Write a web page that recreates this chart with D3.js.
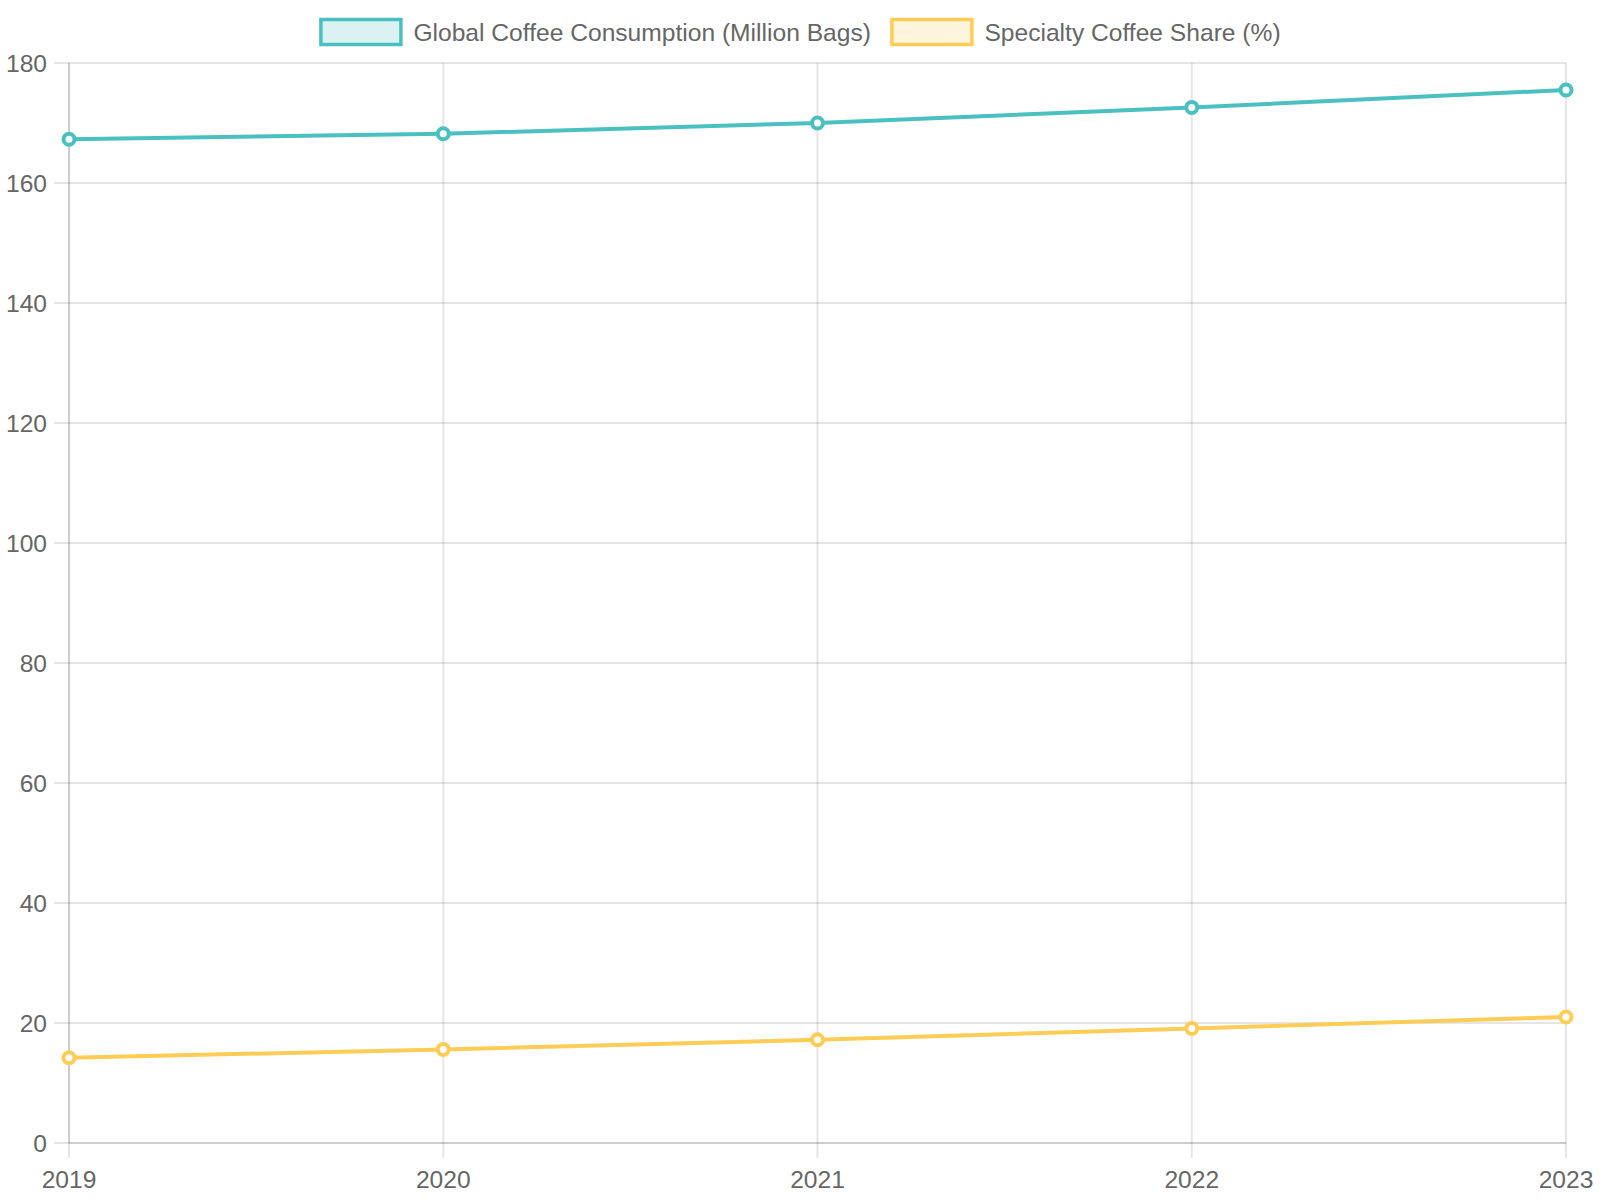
<!DOCTYPE html>
<html>
<head>
<meta charset="UTF-8">
<title>Coffee</title>
<script src="https://cdnjs.cloudflare.com/ajax/libs/d3/7.8.5/d3.min.js"></script>
<style>
  body { margin: 0; background: #fff; }
  svg { display: block; font-family: "Liberation Sans", Arial, Helvetica, sans-serif; }
</style>
</head>
<body>
<script>
// data
var years = ["2019", "2020", "2021", "2022", "2023"];
var consumption = [167.3, 168.2, 170.0, 172.6, 175.5];
var specialtyShare = [14.2, 15.6, 17.2, 19.1, 21.0];
var yTicks = [0, 20, 40, 60, 80, 100, 120, 140, 160, 180];
var seriesNames = ["Global Coffee Consumption (Million Bags)", "Specialty Coffee Share (%)"];
var seriesColors = ["rgb(75,192,192)", "rgb(255,205,86)"];
var seriesFills = ["rgba(75,192,192,0.2)", "rgba(255,205,86,0.2)"];

var W = 1600, H = 1200;
// plot area ("top" is a reserved global in browsers, so use other names)
var plotLeft = 69, plotRight = 1566, plotTop = 63, plotBottom = 1143;
var grid = "rgba(0,0,0,0.1)";
var fontSize = 24.6;

var svg = d3.select("body").append("svg")
  .attr("width", W)
  .attr("height", H);

var x = d3.scalePoint().domain(years).range([plotLeft, plotRight]);
var y = d3.scaleLinear().domain([0, 180]).range([plotBottom, plotTop]);

// grid lines
svg.append("g").selectAll("line")
  .data(yTicks).enter().append("line")
  .attr("x1", plotLeft - 15).attr("x2", plotRight)
  .attr("y1", function (d) { return y(d); })
  .attr("y2", function (d) { return y(d); })
  .attr("stroke", grid).attr("stroke-width", 2);

svg.append("g").selectAll("line")
  .data(years).enter().append("line")
  .attr("x1", function (d) { return x(d); })
  .attr("x2", function (d) { return x(d); })
  .attr("y1", plotTop).attr("y2", plotBottom + 15)
  .attr("stroke", grid).attr("stroke-width", 2);

// axis borders
svg.append("line")
  .attr("x1", plotLeft).attr("x2", plotLeft).attr("y1", plotTop).attr("y2", plotBottom)
  .attr("stroke", grid).attr("stroke-width", 2);
svg.append("line")
  .attr("x1", plotLeft).attr("x2", plotRight).attr("y1", plotBottom).attr("y2", plotBottom)
  .attr("stroke", grid).attr("stroke-width", 2);

// tick labels
svg.append("g").selectAll("text")
  .data(yTicks).enter().append("text")
  .attr("x", 47)
  .attr("y", function (d) { return y(d); })
  .attr("dy", "0.36em")
  .attr("text-anchor", "end")
  .attr("font-size", fontSize)
  .attr("fill", "#666")
  .text(function (d) { return d; });

svg.append("g").selectAll("text")
  .data(years).enter().append("text")
  .attr("x", function (d) { return x(d); })
  .attr("y", 1188)
  .attr("text-anchor", "middle")
  .attr("font-size", fontSize)
  .attr("fill", "#666")
  .text(function (d) { return d; });

// lines + points
var line = d3.line()
  .x(function (d, i) { return x(years[i]); })
  .y(function (d) { return y(d); });

[consumption, specialtyShare].forEach(function (vals, k) {
  svg.append("path")
    .datum(vals)
    .attr("d", line)
    .attr("fill", "none")
    .attr("stroke", seriesColors[k])
    .attr("stroke-width", 4)
    .attr("stroke-linejoin", "round");

  svg.append("g").selectAll("circle")
    .data(vals).enter().append("circle")
    .attr("cx", function (d, i) { return x(years[i]); })
    .attr("cy", function (d) { return y(d); })
    .attr("r", 5.5)
    .attr("fill", "#fff")
    .attr("stroke", seriesColors[k])
    .attr("stroke-width", 4);
});

// legend, centered across the top
var legend = svg.append("g");
var items = legend.selectAll("g")
  .data(seriesNames).enter().append("g");

items.append("rect")
  .attr("x", 1.5)
  .attr("width", 80).attr("height", 25)
  .attr("y", 19.5)
  .attr("fill", function (d, i) { return seriesFills[i]; })
  .attr("stroke", function (d, i) { return seriesColors[i]; })
  .attr("stroke-width", 3.5);

items.append("text")
  .attr("x", 94)
  .attr("y", 32)
  .attr("dy", "0.36em")
  .attr("font-size", fontSize)
  .attr("fill", "#666")
  .text(function (d) { return d; });

var widths = [];
items.each(function () {
  widths.push(94 + d3.select(this).select("text").node().getComputedTextLength());
});
var gap = 19.5;
var total = d3.sum(widths) + gap * (widths.length - 1);
var startX = (W - total) / 2;
items.attr("transform", function (d, i) {
  var off = startX;
  for (var j = 0; j < i; j++) off += widths[j] + gap;
  return "translate(" + off + ",0)";
});
</script>
</body>
</html>
